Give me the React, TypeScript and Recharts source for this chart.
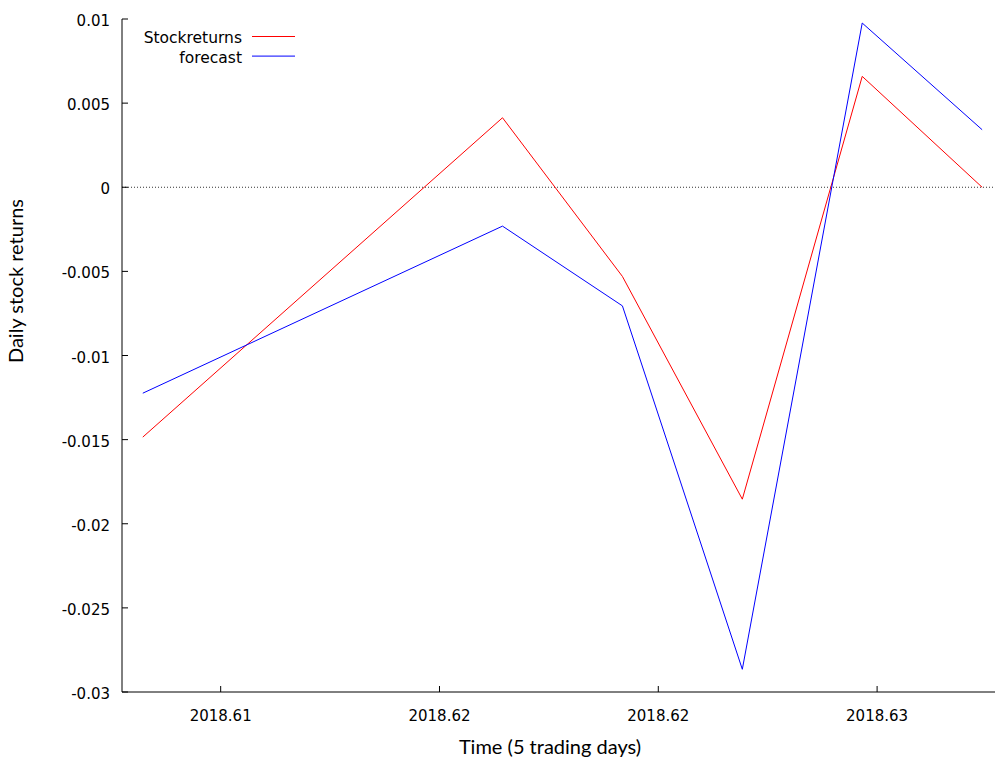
import React from 'react';
import { LineChart, Line, XAxis, YAxis, ReferenceLine, Legend } from 'recharts';

// Time (fraction of year) for each trading day
const times = [2018.60822, 2018.61644, 2018.61918, 2018.62192, 2018.62466, 2018.6274];
const stockReturns = [-0.01485, 0.00413, -0.0053, -0.01854, 0.00659, 0.0];
const forecast = [-0.01224, -0.00231, -0.00705, -0.02865, 0.00976, 0.00342];

const xTicks = [2018.61, 2018.615, 2018.62, 2018.625];
const xTickLabels = ['2018.61', '2018.62', '2018.62', '2018.63'];
const yTicks = [0.01, 0.005, 0, -0.005, -0.01, -0.015, -0.02, -0.025, -0.03];
const yTickLabels = ['0.01', '0.005', '0', '-0.005', '-0.01', '-0.015', '-0.02', '-0.025', '-0.03'];

const seriesNames = ['Stockreturns', 'forecast'];
const seriesColors = ['#ff0000', '#0000ff'];

const data = times.map((t, i) => ({ t, stock: stockReturns[i], forecast: forecast[i] }));

const TICK_FONT = '"DejaVu Sans", Verdana, sans-serif';
const TITLE_FONT = 'Lato, "Open Sans", sans-serif';

const PLOT_TOP = 19;
const PLOT_BOTTOM = 692;
const PLOT_LEFT = 122;

const BottomTick = (props: any) => {
  const { x, payload } = props;
  const idx = xTicks.indexOf(payload.value);
  return (
    <g>
      <line x1={x} y1={PLOT_BOTTOM} x2={x} y2={PLOT_BOTTOM - 6} stroke="#000" strokeWidth={1} />
      <text x={x} y={PLOT_BOTTOM + 29} textAnchor="middle" fontFamily={TICK_FONT} fontSize={15} fill="#000">
        {idx >= 0 ? xTickLabels[idx] : ''}
      </text>
    </g>
  );
};

const TopTick = (props: any) => {
  const { x } = props;
  return <line x1={x} y1={PLOT_TOP} x2={x} y2={PLOT_TOP + 6} stroke="#000" strokeWidth={1} />;
};

const LeftTick = (props: any) => {
  const { y, payload } = props;
  const idx = yTicks.indexOf(payload.value);
  return (
    <g>
      <line x1={PLOT_LEFT} y1={y} x2={PLOT_LEFT + 6} y2={y} stroke="#000" strokeWidth={1} />
      <text x={PLOT_LEFT - 12} y={y + 7} textAnchor="end" fontFamily={TICK_FONT} fontSize={15} fill="#000">
        {idx >= 0 ? yTickLabels[idx] : ''}
      </text>
    </g>
  );
};

const LegendBox = () => (
  <svg width={320} height={70} style={{ display: 'block' }}>
    {seriesNames.map((name, i) => (
      <g key={name}>
        <text x={242} y={43 + i * 19.6} textAnchor="end" fontFamily={TICK_FONT} fontSize={15.5} fill="#000">
          {name}
        </text>
        <line x1={252} y1={36.5 + i * 19.6} x2={295} y2={36.5 + i * 19.6} stroke={seriesColors[i]} strokeWidth={1} />
      </g>
    ))}
  </svg>
);

export default function App() {
  return (
    <div style={{ position: 'fixed', left: 0, top: 0, width: 995, height: 760, overflow: 'hidden', background: '#fff' }}>
      <LineChart width={1040} height={760} data={data} margin={{ top: PLOT_TOP, right: 10, bottom: 0, left: 0 }}>
        <XAxis
          dataKey="t"
          type="number"
          domain={[2018.607745, 2018.628494]}
          allowDataOverflow
          ticks={xTicks}
          interval={0}
          height={68}
          tickSize={0}
          tickMargin={0}
          tickLine={false}
          axisLine={{ stroke: '#000', strokeWidth: 1 }}
          tick={<BottomTick />}
          label={{
            content: () => (
              <text x={550} y={754} textAnchor="middle" fontFamily={TITLE_FONT} fontSize={20} fill="#000">
                Time (5 trading days)
              </text>
            ),
          }}
        />
        <XAxis
          xAxisId="top"
          dataKey="t"
          type="number"
          orientation="top"
          domain={[2018.607745, 2018.628494]}
          allowDataOverflow
          ticks={xTicks}
          interval={0}
          height={0}
          tickSize={0}
          tickMargin={0}
          tickLine={false}
          axisLine={{ stroke: '#000', strokeWidth: 1 }}
          tick={<TopTick />}
        />
        <YAxis
          type="number"
          domain={[-0.03, 0.01]}
          allowDataOverflow
          ticks={yTicks}
          interval={0}
          width={PLOT_LEFT}
          tickSize={0}
          tickMargin={0}
          tickLine={false}
          axisLine={{ stroke: '#000', strokeWidth: 1 }}
          tick={<LeftTick />}
          label={{
            content: () => (
              <text
                transform="translate(23,281) rotate(-90)"
                textAnchor="middle"
                fontFamily={TITLE_FONT}
                fontSize={20}
                fill="#000"
              >
                Daily stock returns
              </text>
            ),
          }}
        />
        <ReferenceLine y={0} stroke="#333" strokeWidth={1} strokeDasharray="1 2" />
        <Legend
          layout="vertical"
          align="center"
          verticalAlign="middle"
          width={320}
          height={70}
          wrapperStyle={{ position: 'absolute', left: 0, top: 0, width: 320, height: 70 }}
          content={() => <LegendBox />}
        />
        <Line
          type="linear"
          dataKey="stock"
          name={seriesNames[0]}
          stroke={seriesColors[0]}
          strokeWidth={1}
          dot={false}
          activeDot={false}
          isAnimationActive={false}
        />
        <Line
          type="linear"
          dataKey="forecast"
          name={seriesNames[1]}
          stroke={seriesColors[1]}
          strokeWidth={1}
          dot={false}
          activeDot={false}
          isAnimationActive={false}
        />
      </LineChart>
    </div>
  );
}
